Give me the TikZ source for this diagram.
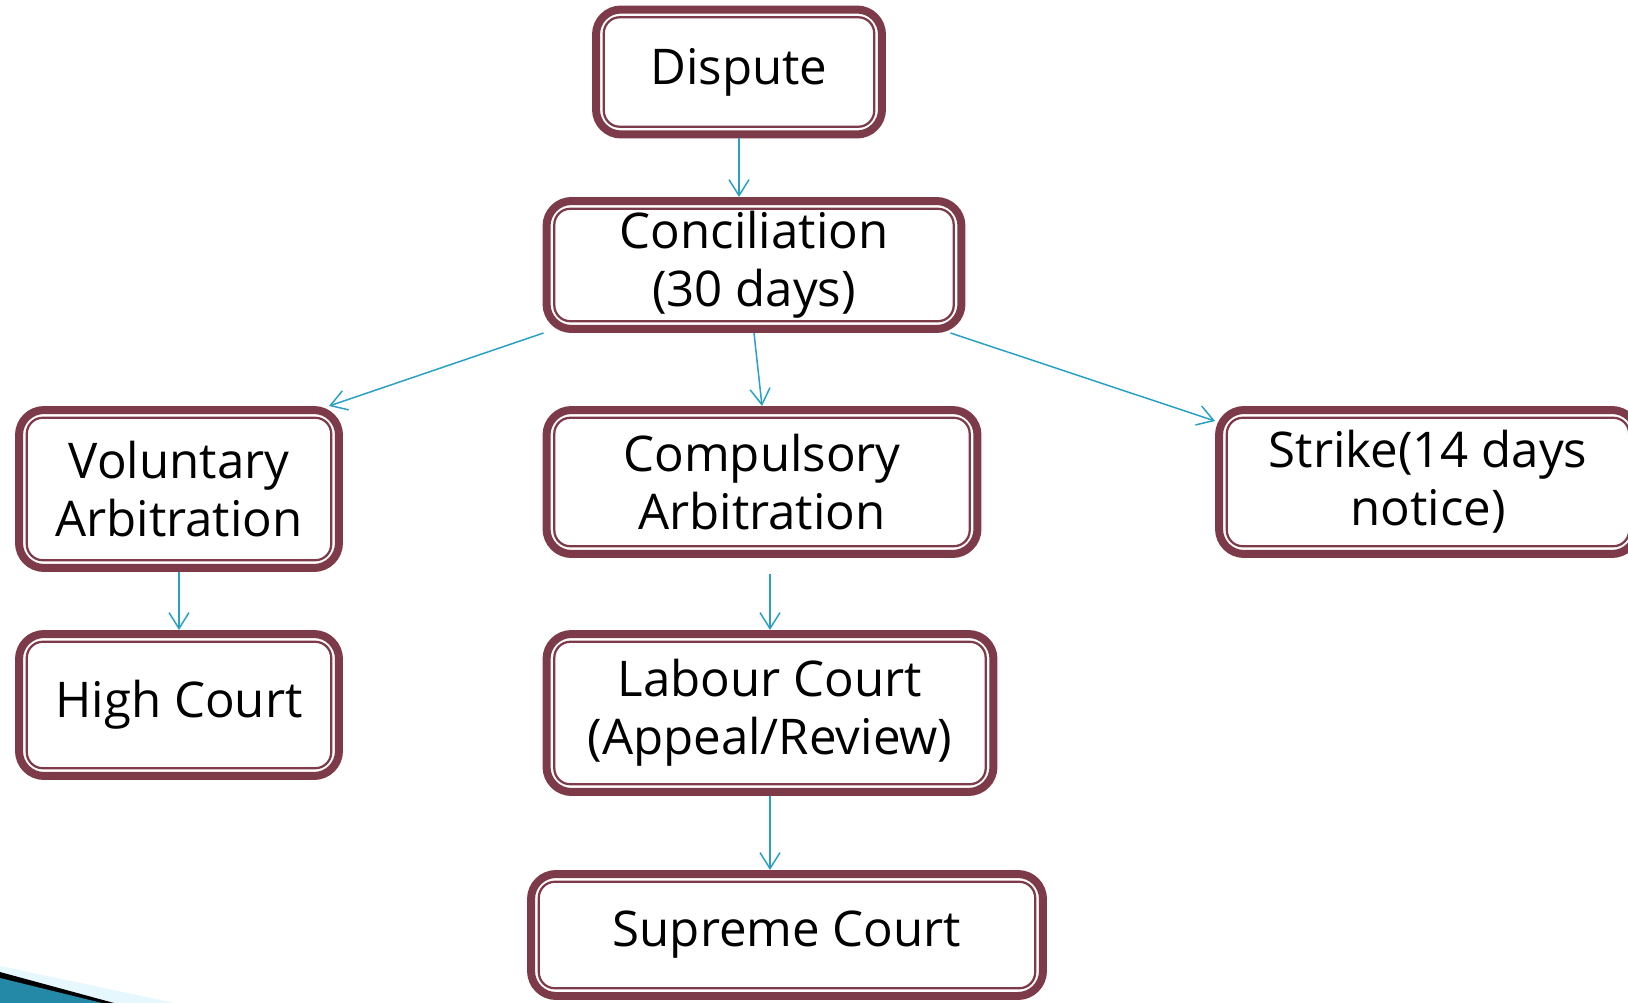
\documentclass[tikz,border=0pt]{standalone}
\usepackage{fontspec}
\setmainfont{Open Sans}
\usetikzlibrary{arrows.meta}
\definecolor{boxred}{RGB}{125,58,72}
\definecolor{flowblue}{RGB}{43,160,196}

\begin{document}
\begin{tikzpicture}[x=0.02cm, y=-0.02cm, >={Straight Barb[length=0.32cm,width=0.4cm]},
		box/.style={draw=boxred, line width=0.16cm, rounded corners=0.5cm, fill=white, align=center, inner sep=0pt, font=\fontsize{28}{33}\selectfont},
		rim/.style={draw=boxred, line width=0.045cm, rounded corners=0.32cm},
		flow/.style={->, draw=flowblue, line width=0.03cm}]
			\useasboundingbox (0,0) rectangle (1628,1003);

			% Corner swoosh
			\fill[cyan!10] (0,966) -- (175,1003) -- (0,1003) -- cycle;
			\fill[black] (0,972) -- (114,1003) -- (0,1003) -- cycle;
			\fill[flowblue!85!black] (0,978) -- (102,1003) -- (0,1003) -- cycle;

			% Boxes
			\node[box, minimum width=5.72cm, minimum height=2.5cm] (dispute) at (739,72) {Dispute};
			\node[box, minimum width=8.3cm, minimum height=2.56cm] (concil) at (754,265) {Conciliation\\(30 days)};
			\node[box, minimum width=6.4cm, minimum height=3.16cm] (volun) at (179,489) {Voluntary\\Arbitration};
			\node[box, minimum width=8.62cm, minimum height=2.88cm] (compul) at (762,482) {Compulsory\\Arbitration};
			\node[box, minimum width=8.36cm, minimum height=2.88cm] (strike) at (1428,482) {Strike(14 days\\notice)};
			\node[box, minimum width=6.4cm, minimum height=2.84cm] (high) at (179,705) {High Court};
			\node[box, minimum width=8.94cm, minimum height=3.16cm] (labour) at (770,713) {Labour Court\\(Appeal/Review)};
			\node[box, minimum width=10.24cm, minimum height=2.44cm] (supreme) at (787,935) {Supreme Court};

			% Inner rims (anchors sit on the outer edge of the thick line)
			\foreach \n in {dispute, concil, volun, compul, strike, high, labour, supreme}
				\draw[rim] ([shift={(0.235cm,0.235cm)}]\n.south west) rectangle ([shift={(-0.235cm,-0.235cm)}]\n.north east);

			% Arrows
			\draw[flow] (dispute.south) -- (dispute.south |- concil.north);
			\draw[flow] ([xshift=0.02cm]concil.south west) -- ([xshift=-0.28cm]volun.north east);
			\draw[flow] (concil.south) -- (compul.north);
			\draw[flow] ([xshift=-0.3cm]concil.south east) -- ([yshift=-0.3cm]strike.north west);
			\draw[flow] (volun.south) -- (high.north);
			\draw[flow] ([yshift=-0.32cm]labour.north |- compul.south) -- (labour.north);
			\draw[flow] (labour.south) -- (labour.south |- supreme.north);
		\end{tikzpicture}
\end{document}
